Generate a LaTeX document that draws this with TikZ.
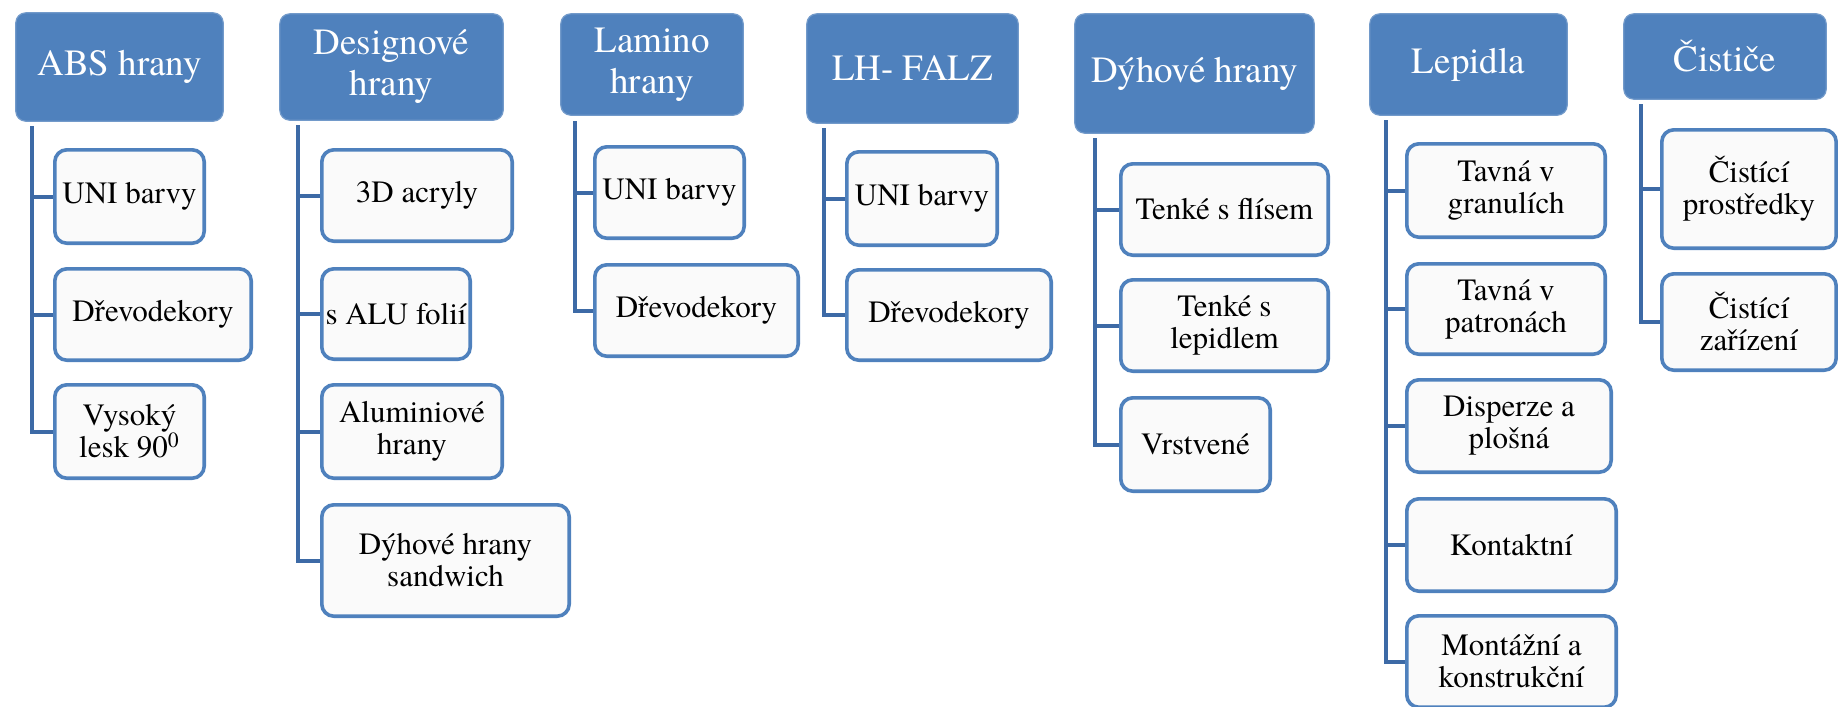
\documentclass[tikz,border=0pt]{standalone}
\usepackage{fontspec}
\setmainfont{TeX Gyre Termes}
\definecolor{hdrfill}{HTML}{4F81BD}
\definecolor{itemedge}{HTML}{4F81BD}
\definecolor{linkcol}{HTML}{3D6AA6}
\tikzset{
  wh/.style 2 args={minimum width=#1*0.5pt-1.8pt, minimum height=#2*0.5pt-1.8pt},
  head/.style={draw=hdrfill!80!white, line width=0.6pt, fill=hdrfill,
    rounded corners=5pt, text=white, align=center, inner sep=0pt,
    font=\fontsize{18.5}{20.5}\selectfont},
  item/.style={draw=itemedge, line width=1.8pt, fill=black!2,
    rounded corners=6pt, text=black, align=center, inner sep=0pt,
    font=\fontsize{15.5}{16}\selectfont},
  link/.style={draw=linkcol, line width=2pt},
}
\begin{document}
\begin{tikzpicture}[x=0.5pt, y=-0.5pt]
\useasboundingbox (0,0) rectangle (1838,707);
\clip (0,0) rectangle (1838,707);

% ---- column headers ----
\node[head, wh={211}{112}] (h1) at (119.5,67)   {ABS hrany};
\node[head, wh={227}{110}] (h2) at (391.5,67)   {Designové\\hrany};
\node[head, wh={186}{105}] (h3) at (652,64.5)   {Lamino\\hrany};
\node[head, wh={215}{113}] (h4) at (912.5,68.5) {LH- FALZ};
\node[head, wh={243}{123}] (h5) at (1194.5,73.5){Dýhové hrany};
\node[head, wh={201}{105}] (h6) at (1468.5,64.5){Lepidla};
\node[head, wh={206}{89}]  (h7) at (1725,56.5)  {Čističe};

% ---- ABS hrany ----
\node[item, wh={153}{97}] (a1) at (129.5,196.5) {UNI barvy};
\node[item, wh={200}{95}] (a2) at (153,314.5)   {Dřevodekory};
\node[item, wh={153}{97}] (a3) at (129.5,431.5) {Vysoký\\lesk 90\textsuperscript{0}};

% ---- Designové hrany ----
\node[item, wh={194}{95}]  (d1) at (417,195.5)   {3D acryly};
\node[item, wh={152}{94}]  (d2) at (396,314)     {s ALU folií};
\node[item, wh={184}{97}]  (d3) at (412,431.5)   {Aluminiové\\hrany};
\node[item, wh={251}{115}] (d4) at (445.5,560.5) {Dýhové hrany\\sandwich};

% ---- Lamino hrany ----
\node[item, wh={153}{95}] (l1) at (669.5,192.5) {UNI barvy};
\node[item, wh={207}{95}] (l2) at (696.5,310.5) {Dřevodekory};

% ---- LH- FALZ ----
\node[item, wh={154}{97}] (f1) at (922,198.5) {UNI barvy};
\node[item, wh={208}{94}] (f2) at (949,315)   {Dřevodekory};

% ---- Dýhové hrany ----
\node[item, wh={211}{95}] (v1) at (1224.5,209.5) {Tenké s flísem};
\node[item, wh={211}{95}] (v2) at (1224.5,325.5) {Tenké s\\lepidlem};
\node[item, wh={153}{97}] (v3) at (1195.5,444.5) {Vrstvené};

% ---- Lepidla ----
\node[item, wh={202}{97}] (p1) at (1506,190.5)   {Tavná v\\granulích};
\node[item, wh={202}{94}] (p2) at (1506,309)     {Tavná v\\patronách};
\node[item, wh={208}{96}] (p3) at (1509,426)     {Disperze a\\plošná};
\node[item, wh={213}{96}] (p4) at (1511.5,545)   {Kontaktní};
\node[item, wh={213}{95}] (p5) at (1511.5,661.5) {Montážní a\\konstrukční};

% ---- Čističe ----
\node[item, wh={178}{122}] (c1) at (1749,189) {Čistící\\prostředky};
\node[item, wh={178}{100}] (c2) at (1749,322) {Čistící\\zařízení};

% ---- trunk start points below each header ----
\coordinate (t1) at (32,126);
\coordinate (t2) at (297.5,125);
\coordinate (t3) at (574.5,121);
\coordinate (t4) at (823.5,128);
\coordinate (t5) at (1094.5,138);
\coordinate (t6) at (1386,120);
\coordinate (t7) at (1641,104);

% ---- connectors ----
\foreach \t/\c in {t1/a1,t1/a2,t1/a3,
                   t2/d1,t2/d2,t2/d3,t2/d4,
                   t3/l1,t3/l2,
                   t4/f1,t4/f2,
                   t5/v1,t5/v2,t5/v3,
                   t6/p1,t6/p2,t6/p3,t6/p4,t6/p5,
                   t7/c1,t7/c2}
  \draw[link] (\t) |- (\c.west);
\end{tikzpicture}
\end{document}
